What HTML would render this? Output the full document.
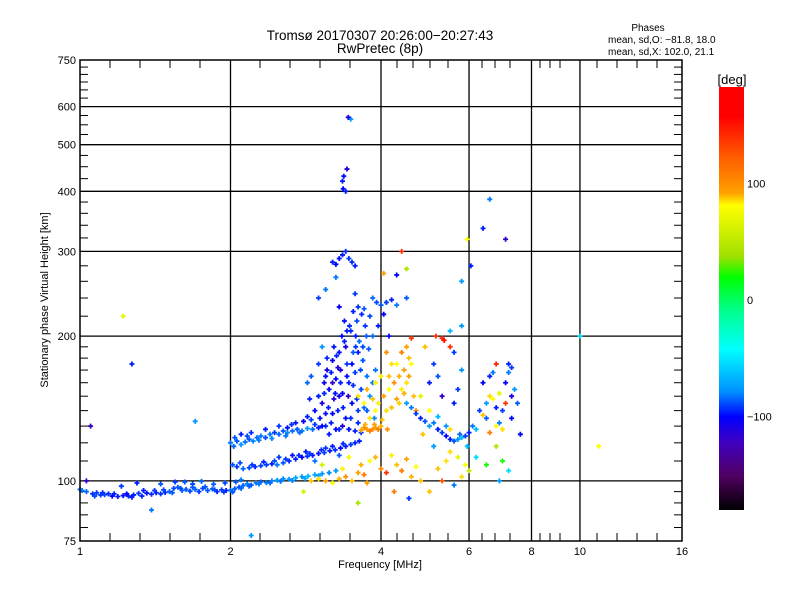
<!DOCTYPE html>
<html><head><meta charset="utf-8"><style>
body{margin:0;background:#fff;}
svg{display:block;font-family:"Liberation Sans",sans-serif;}
</style></head><body>
<svg id="chart" width="800" height="600" viewBox="0 0 800 600" xmlns="http://www.w3.org/2000/svg">
<rect width="800" height="600" fill="#fff"/>
<text x="380" y="40" font-size="13.5" text-anchor="middle">Tromsø 20170307 20:26:00−20:27:43</text>
<text x="380" y="53" font-size="13.5" text-anchor="middle">RwPretec (8p)</text>
<text x="648" y="31" font-size="10" text-anchor="middle">Phases</text>
<text x="608" y="43" font-size="10">mean, sd,O: −81.8, 18.0</text>
<text x="608" y="55" font-size="10">mean, sd,X: 102.0, 21.1</text>
<g id="grid"></g>
<g id="ticks"></g>
<g id="marks"></g>
<rect x="80" y="60" width="602" height="481" fill="none" stroke="#000" stroke-width="1.5"/>
<text x="380" y="568" font-size="11" text-anchor="middle">Frequency [MHz]</text>
<text transform="translate(48,300) rotate(-90)" font-size="11" text-anchor="middle">Stationary phase Virtual Height [km]</text>
<defs><linearGradient id="cbg" x1="0" y1="0" x2="0" y2="1">
<stop offset="0" stop-color="#ff0000"/><stop offset="0.07" stop-color="#ff0000"/><stop offset="0.17" stop-color="#ff6000"/><stop offset="0.25" stop-color="#ffa000"/><stop offset="0.28" stop-color="#ffff00"/><stop offset="0.4" stop-color="#a0e000"/><stop offset="0.45" stop-color="#00ff00"/><stop offset="0.52" stop-color="#00ff80"/><stop offset="0.62" stop-color="#00ffff"/><stop offset="0.72" stop-color="#0090ff"/><stop offset="0.78" stop-color="#0000ff"/><stop offset="0.84" stop-color="#4000c0"/><stop offset="0.92" stop-color="#500060"/><stop offset="1" stop-color="#000000"/>
</linearGradient></defs>
<rect x="719" y="87" width="25" height="423" fill="url(#cbg)"/>
<text x="732" y="84" font-size="13" text-anchor="middle">[deg]</text>
<g id="cbticks"></g>
</svg>
<script>
const phaseTicks=[100,0,-100];
const xMajor=[2,4,6,8,10];
const xLabels=[1,2,4,6,8,10,16];
const yGrid=[100,200,300,400,500,600];
const yLabels=[75,100,200,300,400,500,600,750];
const yMinor=[80,85,90,95,110,120,130,140,150,160,170,180,190,220,240,260,280,320,340,360,380,425,450,475,525,550,575,625,650,675,700,725];
const xMinorPx=[110,140,170,200,260,290,320,350,397,413,430,448,482,495,510,540,550,560,597,617,637,657];
// observations: frequency [MHz], height [km], phase [deg]
const pts=[
[1.00,96,-75],[1.01,95.5,-70],[1.03,95,-75],[1.06,94,-95],[1.08,94.5,-90],[1.10,93.5,-90],[1.12,93.6,-85],[1.14,94,-95],[1.16,93,-110],[1.19,92.8,-100],[1.22,93.2,-105],[1.25,93,-95],[1.28,93.5,-100],[1.31,94.2,-90],[1.34,95.5,-100],[1.36,94.3,-105],[1.39,93.8,-95],[1.42,94.5,-100],[1.45,94,-90],[1.48,94.6,-95],[1.51,95,-80],[1.54,96.5,-85],[1.57,97,-80],[1.60,95.5,-75],[1.63,96,-80],[1.66,95.2,-85],[1.70,96,-75],[1.73,95,-90],[1.76,96.5,-85],[1.80,95.5,-80],[1.84,96.2,-80],[1.88,95,-95],[1.92,95.8,-90],[1.96,95.5,-100],[2.00,95.6,-75],[2.04,96.3,-80],[2.08,97,-85],[2.12,97.8,-75],[2.16,98.6,-70],[2.20,98,-80],[2.25,99,-70],[2.30,99.5,-75],[2.36,99.2,-70],[2.42,100,-65],[2.48,100.3,-60],[2.55,101,-65],[2.62,100.8,-60],[2.70,101.5,-55],[2.78,102,-60],[2.86,102.3,-50],[2.95,103,-55],[3.05,103.5,-60],[3.15,104,-65],[3.25,105,-60],
[1.07,93,-85],[1.11,94.5,-95],[1.17,94,-100],[1.24,94,-110],[1.27,92.5,-100],[1.33,93,-95],[1.41,95.5,-90],[1.47,95.8,-85],[1.53,94.5,-80],[1.59,96.5,-85],[1.68,97,-80],[1.78,97.2,-80],[1.86,95.8,-85],[1.94,94.8,-90],[2.02,94.8,-80],[2.10,96.5,-75],[2.18,97.5,-80],[2.28,98.5,-70],[2.40,99,-75],[2.52,99.8,-70],[2.66,100.2,-65],[2.82,101.2,-55],[3.00,102.5,-60],
[1.45,98.5,-80],[1.55,99.5,-90],[1.62,99.5,-80],[1.68,98.5,-85],[1.75,99.8,-75],[1.85,98.4,-80],[1.95,99,-85],[2.05,99.5,-80],[2.10,100.5,-70],[1.30,99,-100],[1.21,97.5,-90],
[1.05,130,-130],[1.03,100,-130],[1.27,175,-100],[1.22,220,80],[1.39,87,-70],[2.2,77,-60],[1.7,133,-60],
[2.02,108,-80],[2.06,107,-90],[2.12,106,-75],[2.18,106.5,-85],[2.24,107,-95],[2.30,107.5,-85],[2.36,108,-90],[2.42,108.5,-100],[2.48,108,-70],[2.55,109,-80],[2.62,110,-95],[2.70,111,-100],[2.78,112,-110],[2.85,112.5,-95],[2.92,113,-100],[3.0,114,-105],[3.08,114.5,-90],[3.16,115.5,-100],[3.24,116,-95],[3.32,117,-110],[3.4,118,-100],[3.48,119,-90],[3.55,120,-95],[3.62,121,-100],[2.50,112,-90],[2.66,113,-105],[2.83,115,-100],[3.1,117,-90],[2.95,110,-70],[3.3,113,-80],
[2.09,109,-85],[2.21,108,-90],[2.33,109.5,-95],[2.45,110,-85],[2.58,111,-90],[2.74,113,-95],[2.88,114,-90],[3.04,116,-95],[3.2,118,-100],[3.36,119.5,-95],
[2.0,120,-70],[2.03,118,-75],[2.06,121,-80],[2.1,119,-60],[2.14,120.5,-70],[2.18,122,-80],[2.22,121,-65],[2.26,123,-75],[2.3,124,-70],[2.35,123,-85],[2.4,125,-70],[2.45,126,-90],[2.5,125,-75],[2.55,127,-80],[2.6,126,-65],[2.66,127,-75],[2.72,128,-80],[2.78,127,-70],[2.85,128.5,-60],[2.92,128,-75],[3.0,129,-100],[3.1,130,-95],[2.1,125,-100],[2.2,126,-95],[2.35,128,-100],[2.5,130,-90],[2.6,129,-105],[2.7,132,-100],[2.8,133,-110],[2.9,134,-90],
[2.04,123,-80],[2.16,124,-85],[2.28,121.5,-70],[2.42,122.5,-65],[2.58,124,-70],[2.75,126,-75],[2.95,131,-90],[2.65,131,-95],[2.85,136,-100],
[2.95,140,-110],[3.0,150,-100],[3.05,145,-120],[3.08,160,-115],[3.1,138,-105],[3.12,170,-120],[3.15,155,-110],[3.18,132,-100],[3.2,178,-115],[3.22,148,-125],[3.25,163,-110],[3.28,140,-100],[3.3,185,-105],[3.3,128,-95],[3.32,170,-120],[3.35,152,-110],[3.38,195,-100],[3.4,135,-105],[3.42,175,-90],[3.45,160,-100],[3.48,205,-95],[3.5,145,-110],[3.52,185,-80],[3.55,168,-90],[3.58,215,-85],[3.6,132,-95],[3.62,195,-75],[3.65,155,-85],[3.68,178,-80],[3.7,142,-75],[3.72,210,-90],[3.75,165,-70],[3.78,188,-80],[3.8,150,-60],[3.85,200,-75],[3.88,135,-65],[3.9,170,-70],[3.05,130,-110],[3.15,125,-100],[3.25,128,-110],[3.35,130,-120],[3.45,128,-105],[3.55,127,-100],[3.65,126,-90],[3.2,160,-130],[3.28,172,-125],[3.4,190,-120],[3.34,200,-110],[3.5,175,-110],[3.6,185,-100],[3.44,150,-130],[3.3,150,-115],[3.1,165,-105],[2.9,165,-80],[2.85,160,-75],[2.88,148,-100],[3.0,175,-90],[3.12,180,-95],[3.22,190,-100],[3.46,210,-95],[3.56,200,-100],[3.66,222,-95],[3.6,230,-90],[3.7,228,-80],[3.8,220,-85],[3.52,225,-100],[3.38,215,-105],[3.3,230,-110],[3.85,160,-70],[3.75,140,-80],[3.58,148,-90],
[3.02,135,-105],[3.14,142,-100],[3.24,152,-105],[3.36,142,-100],[3.48,135,-95],[3.6,140,-90],[3.08,152,-95],[3.18,168,-100],[3.26,182,-95],[3.42,165,-105],[3.52,158,-95],[3.64,170,-85],[3.74,200,-80],[3.32,160,-100],[3.2,138,-110],[3.42,205,-100],[3.56,190,-90],[3.68,190,-85],
[3.2,285,-100],[3.25,282,-110],[3.3,290,-105],[3.35,295,-100],[3.45,290,-90],[3.5,285,-95],[3.55,280,-100],[3.25,265,-70],[3.4,300,-95],[3.36,405,-110],[3.35,420,-100],[3.37,430,-105],[3.42,445,-120],[3.4,400,-100],[3.48,565,-60],[3.44,570,-120],[3.0,240,-90],[3.1,250,-70],[3.55,245,-90],[3.05,190,-60],
[3.85,240,-75],[3.92,235,-85],[4.0,232,-80],[4.1,235,-90],[4.2,238,-100],[4.3,232,-70],[3.95,210,-100],[4.05,222,-110],[4.5,240,-80],[4.4,300,150],[4.15,200,-105],[4.05,270,120],[4.3,268,-110],[4.5,276,60],
[3.75,128,120],[3.8,127,130],[3.85,128,125],[3.9,129,120],[3.95,128,130],[4.0,130,115],[3.7,129,125],[3.65,127.5,120],[3.8,135,100],[3.9,140,90],[3.85,148,110],[3.95,145,95],[4.05,150,120],[4.1,140,100],[4.15,155,90],[4.2,142,110],[4.25,160,125],[4.3,148,120],[4.35,165,115],[4.4,155,95],[4.45,170,120],[4.5,160,100],[4.55,180,110],[4.5,190,120],[4.4,185,130],[4.6,175,90],[4.65,150,110],[4.7,140,125],[4.8,150,80],[4.0,165,95],[4.2,175,100],[4.1,185,125],[3.9,160,95],[4.6,198,150],[3.7,145,90],[3.6,150,100],[3.75,155,115],
[3.72,131,115],[3.88,131,120],[4.02,134,110],[4.12,128,125],[4.35,145,105],[4.45,152,115],[4.55,165,120],[4.3,175,90],[4.15,165,110],
[2.9,100,110],[3.0,101,100],[3.1,100,120],[3.2,99,90],[3.3,101,115],[3.4,102,125],[3.5,100,110],[3.6,104,120],[3.65,108,115],[3.7,103,130],[3.75,99,120],[3.8,110,90],[3.9,112,115],[4.0,106,125],[4.1,104,150],[4.2,113,95],[4.3,108,110],[4.4,105,130],[4.5,111,120],[4.6,102,115],[4.7,107,90],[4.8,100,110],[3.05,108,75],[3.35,106,95],[3.45,112,85],[2.8,95,75],[4.25,95,130],[4.55,92,-90],[5.0,95,110],[3.6,90,60],
[4.5,145,-60],[4.6,142,-70],[4.7,138,-90],[4.8,135,-100],[4.9,133,-80],[5.0,130,-60],[5.1,132,-70],[5.2,128,-100],[5.3,126,-90],[5.4,124,-110],[5.5,122,-100],[5.6,121,-80],[5.7,122,-60],[5.75,125,-75],[5.8,123,-50],[5.9,124,-90],[6.0,126,-100],[5.2,136,-50],[5.4,130,-60],[5.5,128,100],[5.0,140,90],[4.85,125,110],[5.3,150,-130],[5.6,145,-100],[5.0,160,-100],[5.1,175,-90],[5.3,198,160],[5.35,196,170],[5.5,190,150],[5.6,185,-90],[5.2,165,-80],[5.7,155,-90],[5.8,170,-60],[5.5,115,100],[5.7,112,80],[5.4,110,100],[5.2,106,110],[5.9,108,90],[6.0,105,70],[5.3,100,140],[5.6,98,-70],[5.8,102,100],[5.1,118,-60],[5.95,118,-50],
[6.1,130,-70],[6.2,128,-50],[6.3,140,-90],[6.4,137,110],[6.5,145,-60],[6.6,150,100],[6.7,148,90],[6.8,142,-100],[6.9,152,80],[7.0,140,-90],[7.1,160,-110],[7.2,175,-100],[7.3,172,-90],[7.2,168,-70],[7.3,150,-120],[7.4,155,-60],[7.5,145,-80],[7.0,128,100],[6.8,130,90],[6.6,126,130],[6.5,135,-80],[6.4,160,-110],[6.6,165,-100],[6.7,168,-70],[6.8,175,160],[6.9,132,-70],[7.1,145,150],[7.3,135,-110],[6.2,112,-40],[6.5,108,30],[6.8,118,60],[7.0,110,30],[7.2,105,-40],[6.9,100,-60],[7.6,125,-110],
[6.6,385,-70],[6.4,335,-100],[7.1,318,-130],[5.95,318,90],[6.05,280,-100],[5.8,260,-60],[5.5,205,-50],[10.0,200,-40],[10.9,118,90],[5.8,210,-60],[4.9,190,110],[5.15,200,150]
];
const NS='http://www.w3.org/2000/svg';
const X0=80,X1=682,Y0=541,Y1=60;
function xs(f){return X0+(X1-X0)*Math.log(f)/Math.log(16);}
function ys(h){return Y0-(Y0-Y1)*Math.log10(h/75);}
function cy(p){return 300-p*1.165;}
const stops=[[-180,0,0,0],[-155,60,0,80],[-130,50,0,200],[-110,0,0,255],[-95,0,40,255],[-70,0,120,255],[-40,0,220,255],[0,0,255,140],[25,0,255,0],[60,170,230,0],[90,255,255,0],[120,255,160,0],[150,255,50,0],[180,255,0,0]];
function col(p){for(let i=1;i<stops.length;i++){if(p<=stops[i][0]){const a=stops[i-1],b=stops[i],t=(p-a[0])/(b[0]-a[0]);return 'rgb('+[1,2,3].map(k=>Math.round(a[k]+(b[k]-a[k])*t)).join(',')+')';}}return 'rgb(255,0,0)';}
function mk(tag,attrs,parent){const e=document.createElementNS(NS,tag);for(const k in attrs)e.setAttribute(k,attrs[k]);parent.appendChild(e);return e;}
const grid=document.getElementById('grid'),ticks=document.getElementById('ticks'),marks=document.getElementById('marks'),cbt=document.getElementById('cbticks');
xMajor.forEach(v=>{const l=mk('line',{x1:xs(v),x2:xs(v),y1:Y1,y2:Y0,stroke:'#000','stroke-width':1.3},grid);

});
yGrid.forEach(v=>{const l=mk('line',{x1:X0,x2:X1,y1:ys(v),y2:ys(v),stroke:'#000','stroke-width':1.3},grid);

});
xLabels.forEach(v=>{const t=mk('text',{x:xs(v),y:555,'font-size':11,'text-anchor':'middle'},ticks);t.textContent=v;

});
yLabels.forEach(v=>{const t=mk('text',{x:76,y:ys(v)+4,'font-size':11,'text-anchor':'end'},ticks);t.textContent=v;

});
xMinorPx.forEach(px=>{mk('line',{x1:px,x2:px,y1:Y0,y2:Y0-8,stroke:'#000'},ticks);mk('line',{x1:px,x2:px,y1:Y1,y2:Y1+8,stroke:'#000'},ticks);});
yMinor.forEach(v=>{mk('line',{x1:X0,x2:X0+8,y1:ys(v),y2:ys(v),stroke:'#000'},ticks);mk('line',{x1:X1,x2:X1-8,y1:ys(v),y2:ys(v),stroke:'#000'},ticks);});
pts.forEach(d=>{const x=xs(d[0]),y=ys(d[1]);
const p=mk('path',{d:'M'+(x-2.5)+' '+y+'h5M'+x+' '+(y-2.5)+'v5',stroke:col(d[2]),'stroke-width':1.8,fill:'none'},marks);

});
phaseTicks.forEach(v=>{const t=mk('text',{x:747,y:cy(v)+4,'font-size':11},cbt);t.textContent=v===-100?'−100':v;

});
</script>
</body></html>
